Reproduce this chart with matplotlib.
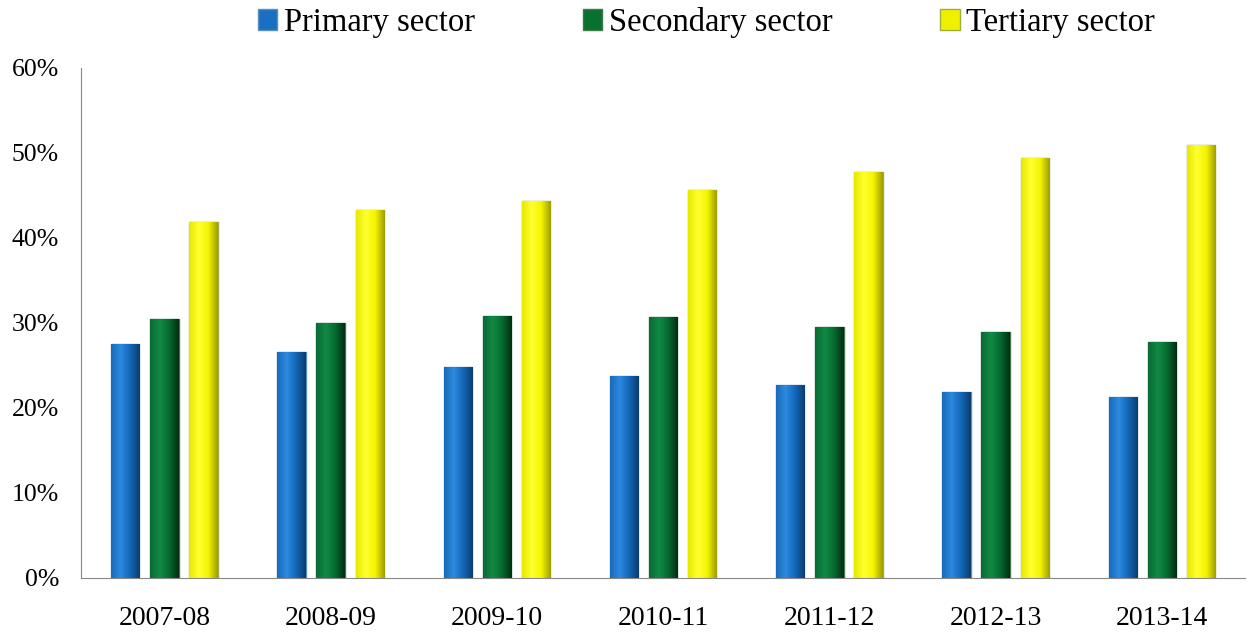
import matplotlib
matplotlib.use("Agg")
import matplotlib.pyplot as plt
import numpy as np
from matplotlib.colors import LinearSegmentedColormap
from matplotlib.patches import Patch

years = ["2007-08", "2008-09", "2009-10", "2010-11", "2011-12", "2012-13", "2013-14"]
primary = [27.5, 26.6, 24.8, 23.8, 22.7, 21.9, 21.3]
secondary = [30.5, 30.0, 30.8, 30.7, 29.5, 28.9, 27.8]
tertiary = [41.9, 43.3, 44.4, 45.6, 47.8, 49.4, 50.9]
series_names = ["Primary sector", "Secondary sector", "Tertiary sector"]
yticks = [0, 10, 20, 30, 40, 50, 60]

plt.rcParams['font.family'] = ['Liberation Serif', 'DejaVu Serif']

fig = plt.figure(figsize=(12.5, 6.35), dpi=100)
ax = fig.add_axes([0.065, 0.09, 0.931, 0.803])

grads = [
    ["#1a6ab8", "#2b8ae0", "#1566b8", "#0b3d6e"],
    ["#0a6a35", "#118a45", "#066b30", "#012d12"],
    ["#e8e800", "#ffff30", "#f5f500", "#9e9e00"],
]
edges = ["#5b8fc0", "#3d7a4a", "#9bb040"]
flat = ["#1a70c0", "#07722f", "#f0f000"]

x = np.arange(len(years))
w = 0.17
step = 0.235
for i, vals in enumerate([primary, secondary, tertiary]):
    bars = ax.bar(x + (i - 1) * step, vals, width=w, color=flat[i],
                  edgecolor=edges[i], linewidth=1.0, zorder=2)
    cmap = LinearSegmentedColormap.from_list("g%d" % i, grads[i])
    grad = np.linspace(0, 1, 64).reshape(1, -1)
    for b in bars:
        x0, y0 = b.get_x(), b.get_y()
        bw, bh = b.get_width(), b.get_height()
        im = ax.imshow(grad, cmap=cmap, aspect='auto',
                       extent=[x0, x0 + bw, y0, y0 + bh], zorder=2.5)
        im.set_clip_path(b)

ax.set_xlim(-0.5, len(years) - 0.5)
ax.set_ylim(0, 60)
ax.set_yticks(yticks)
ax.set_yticklabels(["%d%%" % v for v in yticks], fontsize=18.5)
ax.set_xticks(x)
ax.set_xticklabels(years, fontsize=20)
ax.tick_params(axis='y', length=0, pad=16)
ax.tick_params(axis='x', length=0, pad=20)
for s in ["top", "right"]:
    ax.spines[s].set_visible(False)
ax.spines["left"].set_color("#888888")
ax.spines["bottom"].set_color("#888888")

handles = [Patch(facecolor=flat[i], edgecolor=edges[i]) for i in range(3)]
fig.legend(handles, series_names, loc="upper center", ncol=3,
           bbox_to_anchor=(0.565, 1.035), frameon=False, fontsize=23.5,
           handlelength=0.6, handleheight=0.6, handletextpad=0.2,
           columnspacing=3.3)

fig.savefig("out.png", dpi=100)
